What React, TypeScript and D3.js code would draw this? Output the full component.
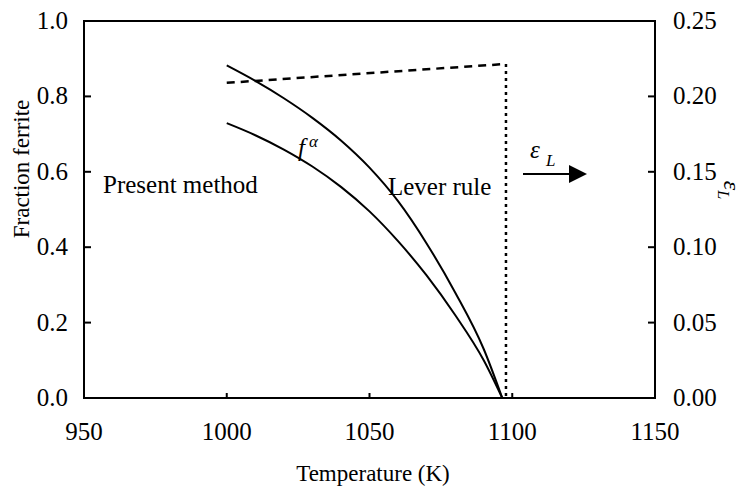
import React from "react";
import * as d3 from "d3";

const leverT = [1000, 1010, 1020, 1030, 1040, 1050, 1060, 1070, 1080, 1090, 1096.5];
const leverF = [0.882, 0.841, 0.795, 0.743, 0.683, 0.611, 0.522, 0.41, 0.28, 0.13, 0.0];
const presentT = [1000, 1010, 1020, 1030, 1040, 1050, 1060, 1070, 1080, 1090, 1096.5];
const presentF = [0.729, 0.697, 0.659, 0.614, 0.56, 0.495, 0.416, 0.325, 0.22, 0.1, 0.0];
const epsT = [1000, 1067.7, 1097.8];
const epsV = [0.209, 0.2177, 0.2215];
const epsDropT = [1097.8, 1097.8];
const epsDropV = [0.2215, 0.0];
const xTicks = [950, 1000, 1050, 1100, 1150];
const yTicks = [0, 0.2, 0.4, 0.6, 0.8, 1.0];
const y2Ticks = [0, 0.05, 0.1, 0.15, 0.2, 0.25];

const W = 744, H = 487;
const L = 84, R = 655, T = 21, B = 398;
const FONT = "Times New Roman, Liberation Serif, Tinos, Nimbus Roman, DejaVu Serif, serif";

export default function App() {
  const x = d3.scaleLinear().domain([950, 1150]).range([L, R]);
  const y = d3.scaleLinear().domain([0, 1]).range([B, T]);
  const y2 = d3.scaleLinear().domain([0, 0.25]).range([B, T]);

  const line = d3.line<[number, number]>().x(d => x(d[0])).y(d => y(d[1])).curve(d3.curveMonotoneX);
  const line2 = d3.line<[number, number]>().x(d => x(d[0])).y(d => y2(d[1]));

  const lever = leverT.map((t, i) => [t, leverF[i]] as [number, number]);
  const present = presentT.map((t, i) => [t, presentF[i]] as [number, number]);
  const eps = epsT.map((t, i) => [t, epsV[i]] as [number, number]);
  const drop = epsDropT.map((t, i) => [t, epsDropV[i]] as [number, number]);

  const tp = { fontFamily: FONT } as React.CSSProperties;

  return (
    <svg width={W} height={H} fontFamily={FONT} style={{ position: "absolute", left: 0, top: 0, background: "#fff" }}>
      <rect x={0} y={0} width={W} height={H} fill="#fff" />
      <rect x={L} y={T} width={R - L} height={B - T} fill="none" stroke="#000" strokeWidth={2} />
      {yTicks.map(v => (
        <g key={"yl" + v}>
          {v > 0 && v < 1 && <line x1={L} x2={L + 7} y1={y(v)} y2={y(v)} stroke="#000" strokeWidth={2} />}
          <text x={68} y={y(v) + 8} fontSize={25} textAnchor="end" fontFamily={FONT}>{v.toFixed(1)}</text>
        </g>
      ))}
      {y2Ticks.map(v => (
        <g key={"yr" + v}>
          {v > 0 && v < 0.25 && <line x1={R - 7} x2={R} y1={y2(v)} y2={y2(v)} stroke="#000" strokeWidth={2} />}
          <text x={673} y={y2(v) + 8} fontSize={25} textAnchor="start" fontFamily={FONT}>{v.toFixed(2)}</text>
        </g>
      ))}
      {xTicks.map(v => (
        <g key={"x" + v}>
          {v > 950 && v < 1150 && <line x1={x(v)} x2={x(v)} y1={B} y2={B - 5} stroke="#000" strokeWidth={2} />}
          <text x={x(v)} y={440} fontSize={25} textAnchor="middle" fontFamily={FONT}>{v}</text>
        </g>
      ))}
      <text x={373} y={481} fontSize={23} textAnchor="middle" fontFamily={FONT}>Temperature (K)</text>
      <text transform={`translate(29,${169}) rotate(-90)`} fontSize={23} textAnchor="middle" fontFamily={FONT}>Fraction ferrite</text>
      <text transform={`translate(724,${190}) rotate(90)`} fontSize={24} textAnchor="middle" fontFamily={FONT}>
        <tspan fontStyle="italic">ε</tspan>
        <tspan fontStyle="italic" fontSize={16} dy={6}>L</tspan>
      </text>
      <path d={line(lever) || ""} fill="none" stroke="#000" strokeWidth={2} />
      <path d={line(present) || ""} fill="none" stroke="#000" strokeWidth={2} />
      <path d={line2(eps) || ""} fill="none" stroke="#000" strokeWidth={2.5} strokeDasharray="8 6" />
      <path d={line2(drop) || ""} fill="none" stroke="#000" strokeWidth={2.5} strokeDasharray="3 4" />
      <text x={103} y={193} fontSize={25} fontFamily={FONT} style={tp}>Present method</text>
      <text x={388} y={195} fontSize={25} fontFamily={FONT}>Lever rule</text>
      <text x={298} y={156} fontSize={25} fontStyle="italic" fontFamily={FONT}>f</text>
      <text x={309} y={147} fontSize={17} fontStyle="italic" fontFamily={FONT}>α</text>
      <text x={530} y={158} fontSize={25} fontStyle="italic" fontFamily={FONT}>ε</text>
      <text x={546} y={166} fontSize={17} fontStyle="italic" fontFamily={FONT}>L</text>
      <line x1={523} x2={572} y1={174} y2={174} stroke="#000" strokeWidth={2} />
      <path d="M569,165 L587,174 L569,183 Z" fill="#000" />
    </svg>
  );
}
